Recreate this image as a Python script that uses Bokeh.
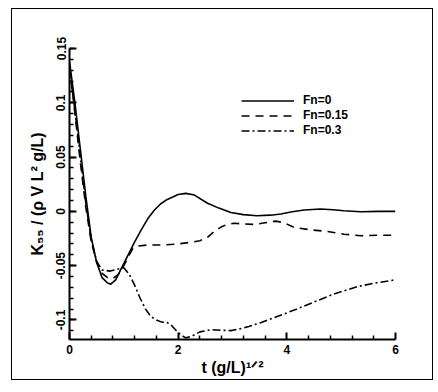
import numpy as np
from bokeh.plotting import figure
from bokeh.models import FixedTicker, Range1d
from bokeh.embed import file_html
from bokeh.resources import INLINE

# ---- data ----
t_fn0 = [0, 0.1, 0.2, 0.3, 0.4, 0.5, 0.6, 0.7, 0.76, 0.85, 0.95, 1.05, 1.19, 1.31, 1.45,
         1.56, 1.68, 1.8, 2.0, 2.14, 2.3, 2.54, 2.75, 2.97, 3.2, 3.45, 3.7, 3.89, 4.1,
         4.32, 4.62, 4.85, 5.05, 5.36, 5.7, 6.0]
k_fn0 = [0.138, 0.1, 0.057, 0.014, -0.024, -0.047, -0.061, -0.066, -0.067, -0.063, -0.053,
         -0.043, -0.029, -0.018, -0.006, 0.001, 0.007, 0.011, 0.0155, 0.0166, 0.015, 0.0075,
         0.003, -0.001, -0.003, -0.004, -0.0035, -0.0024, -0.0003, 0.0013, 0.0022, 0.0015,
         0.0006, -0.0003, 0.0, 0.0]

t_fn015 = [0, 0.1, 0.2, 0.3, 0.4, 0.5, 0.6, 0.7, 0.8, 0.9, 1.0, 1.1, 1.17, 1.25, 1.43, 1.7,
           2.0, 2.23, 2.4, 2.54, 2.65, 2.78, 2.9, 3.03, 3.2, 3.4, 3.6, 3.8, 3.95, 4.13, 4.44,
           4.75, 5.05, 5.36, 5.7, 6.0]
k_fn015 = [0.134, 0.09, 0.045, 0.004, -0.028, -0.047, -0.057, -0.061, -0.062, -0.058, -0.05,
           -0.04, -0.034, -0.032, -0.031, -0.031, -0.030, -0.0285, -0.027, -0.024, -0.019,
           -0.0147, -0.012, -0.011, -0.0115, -0.012, -0.0105, -0.009, -0.0105, -0.0147,
           -0.017, -0.0185, -0.021, -0.0224, -0.022, -0.022]

t_fn03 = [0, 0.1, 0.2, 0.3, 0.4, 0.5, 0.6, 0.75, 0.9, 1.0, 1.1, 1.19, 1.3, 1.4, 1.5, 1.6,
          1.7, 1.8, 1.86, 1.95, 2.05, 2.14, 2.25, 2.4, 2.6, 2.8, 2.97, 3.15, 3.3, 3.52,
          3.95, 4.38, 4.87, 5.3, 5.6, 6.0]
k_fn03 = [0.13, 0.093, 0.05, 0.008, -0.026, -0.046, -0.054, -0.055, -0.053, -0.052, -0.058,
          -0.067, -0.08, -0.09, -0.097, -0.1, -0.102, -0.1025, -0.104, -0.109, -0.114,
          -0.1165, -0.115, -0.111, -0.109, -0.1095, -0.1098, -0.108, -0.106, -0.1025,
          -0.0945, -0.086, -0.076, -0.0693, -0.0662, -0.063]

series_labels = ["Fn=0", "Fn=0.15", "Fn=0.3"]

x_ticks = [0, 2, 4, 6]
x_tick_labels = ["0", "2", "4", "6"]
x_minor = [0.4, 0.8, 1.2, 1.6, 2.4, 2.8, 3.2, 3.6, 4.4, 4.8, 5.2, 5.6]
y_ticks = [-0.1, -0.05, 0, 0.05, 0.1, 0.15]
y_tick_labels = ["-0.1", "-0.05", "0", "0.05", "0.1", "0.15"]
y_minor = [round(v, 2) for v in np.arange(-0.11, 0.1501, 0.01)]

x_title = "t (g/L)\u00b9\u141f\u00b2"
y_title = "K\u2085\u2085 / (\u03c1 V L\u00b2 g/L)"

FONT = "Liberation Sans"

p = figure(width=420, height=370, output_backend="svg", toolbar_location=None,
           x_range=Range1d(0, 6), y_range=Range1d(-0.118, 0.15),
           min_border_left=57, min_border_right=37, min_border_top=39,
           min_border_bottom=40, margin=(9, 0, 0, 12))
p.styles = {"outline": "1px solid black"}
p.xgrid.visible = False
p.ygrid.visible = False
p.outline_line_color = None

for ax in (p.xaxis[0], p.yaxis[0]):
    ax.axis_line_width = 2
    ax.axis_line_color = "black"
    ax.major_tick_in = 7
    ax.major_tick_out = 0
    ax.minor_tick_in = 4
    ax.minor_tick_out = 0
    ax.major_tick_line_width = 2
    ax.minor_tick_line_width = 1.5
    ax.major_tick_line_color = "black"
    ax.minor_tick_line_color = "black"
    ax.major_label_text_font = FONT
    ax.major_label_text_font_style = "bold"
    ax.major_label_text_font_size = "12px"
    ax.major_label_text_color = "black"
    ax.axis_label_text_font = FONT
    ax.axis_label_text_font_style = "bold"
    ax.axis_label_text_font_size = "16px"
    ax.axis_label_text_color = "black"

p.xaxis.ticker = FixedTicker(ticks=x_ticks, minor_ticks=x_minor)
p.xaxis.major_label_overrides = {float(k): v for k, v in zip(x_ticks, x_tick_labels)}
p.xaxis.major_label_standoff = 5
p.xaxis.axis_label = x_title
p.xaxis.axis_label_standoff = 2

p.yaxis.ticker = FixedTicker(ticks=y_ticks, minor_ticks=y_minor)
p.yaxis.major_label_overrides = {float(k): v for k, v in zip(y_ticks, y_tick_labels)}
p.yaxis.major_label_orientation = "vertical"
p.yaxis.major_label_standoff = 4
p.yaxis.axis_label = y_title
p.yaxis.axis_label_standoff = 8

p.line(t_fn0, k_fn0, line_color="black", line_width=1.6, legend_label=series_labels[0])
p.line(t_fn015, k_fn015, line_color="black", line_width=1.6, line_dash="8 6",
       legend_label=series_labels[1])
p.line(t_fn03, k_fn03, line_color="black", line_width=1.6, line_dash="8 3 2 3",
       legend_label=series_labels[2])

lg = p.legend[0]
lg.location = (172, 202)
lg.border_line_color = None
lg.background_fill_alpha = 0
lg.padding = 0
lg.margin = 0
lg.spacing = 1
lg.glyph_width = 53
lg.glyph_height = 13
lg.label_height = 13
lg.label_standoff = 9
lg.label_text_font = FONT
lg.label_text_font_style = "bold"
lg.label_text_font_size = "12px"
lg.label_text_color = "black"

open("out.html", "w").write(file_html(p, INLINE))
